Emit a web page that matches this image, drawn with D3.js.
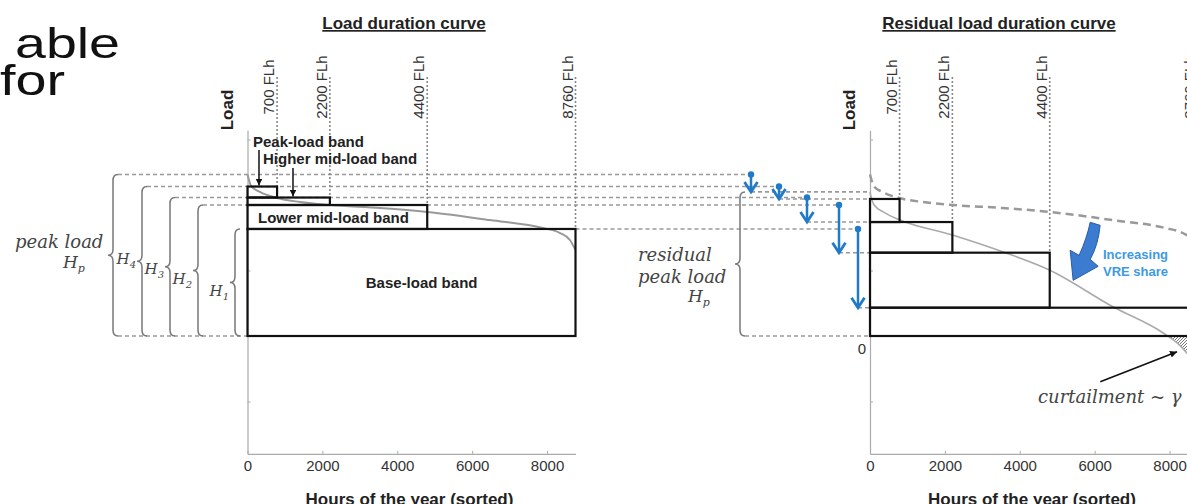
<!DOCTYPE html>
<html>
<head>
<meta charset="utf-8">
<script src="https://cdn.jsdelivr.net/npm/d3@7"></script>
<style>
  body { margin: 0; background: #fff; }
  svg { display: block; }
  text { font-family: "Liberation Sans", Arial, sans-serif; }
  .math { font-family: "DejaVu Serif", serif; font-style: italic; fill: #444; }
</style>
</head>
<body>
<svg id="chart" width="1187" height="504"></svg>
<script>
// ---- data (hours of the year / load in units of H2) ----
const hours    = [0, 40, 95, 330, 790, 1400, 2200, 3540, 4800, 6475, 7890, 8350, 8610, 8760];
const load     = [1.233, 1.19, 1.145, 1.10, 1.053, 1.023, 1.0, 0.977, 0.947, 0.885, 0.824, 0.786, 0.733, 0.656];
const resHours = [0, 30, 110, 400, 800, 2200, 3560, 4790, 6500, 7830, 8290, 8760];
const resLoad  = [1.10, 1.06, 1.0, 0.94, 0.886, 0.771, 0.641, 0.504, 0.221, 0.023, -0.075, -0.24];

const flhHours  = [790, 2200, 4800, 8760];
const flhLabels = ['700 FLh', '2200 FLh', '4400 FLh', '8760 FLh'];
const bandNames = ['Base-load band', 'Lower mid-load band', 'Higher mid-load band', 'Peak-load band'];
const levelSubs = ['1', '2', '3', '4', 'p'];          // H1..H4, Hp
const levels    = [0.817, 1.0, 1.057, 1.141, 1.233];
const resLevels = [0.216, 0.636, 0.870, 1.046, 1.10];
const xTicks = [0, 2000, 4000, 6000, 8000];
const yTicks = [-0.5, 0.5, 1.5];
const yAxisDomain = [-0.9, 1.57];

// ---- layout ----
const braceArmX = [240, 203, 175, 147, 118];
const labelDy   = [14, 13, 7, 3, 0];
const arrowX    = [858, 839, 807, 779, 751];
const resBraceX = 745;
const flhTop = 77;
const guideColor = '#999';
const blue = '#1f7ac9';

const svg = d3.select('#chart');

const xL = d3.scaleLinear().domain([0, 8760]).range([247.5, 575.5]);
const xR = d3.scaleLinear().domain([0, 8760]).range([870, 1198]);
const y  = d3.scaleLinear().domain([0, 1]).range([336, 205]);
const yAx = d3.scaleLinear().domain(yAxisDomain).range(yAxisDomain.map(y));

const bandEnds = flhHours.slice().reverse();

// defs: hatch, arrow head, clip below zero
const defs = svg.append('defs');
defs.append('pattern')
  .attr('id', 'hatch').attr('patternUnits', 'userSpaceOnUse')
  .attr('width', 3).attr('height', 3)
  .append('path')
  .attr('d', 'M-1,1 l2,-2 M0,3 l3,-3 M2,4 l2,-2')
  .attr('stroke', '#666').attr('stroke-width', 0.9);
defs.append('marker')
  .attr('id', 'head').attr('viewBox', '0 0 10 10')
  .attr('refX', 10).attr('refY', 5)
  .attr('markerWidth', 7).attr('markerHeight', 7)
  .attr('markerUnits', 'userSpaceOnUse').attr('orient', 'auto')
  .append('path').attr('d', 'M0,0 L10,5 L0,10 z').attr('fill', '#111');
defs.append('clipPath').attr('id', 'below0')
  .append('rect')
  .attr('x', xR(0)).attr('y', y(0))
  .attr('width', 400).attr('height', 150);

// curly brace opening to the right, tip to the left
function bracePath(xa, y0, y1, w) {
  const xm = xa - w / 2, xt = xa - w, ym = (y0 + y1) / 2, r = 6;
  return `M${xa},${y0} Q${xm},${y0} ${xm},${y0 + r} L${xm},${ym - r} ` +
         `Q${xm},${ym} ${xt},${ym} Q${xm},${ym} ${xm},${ym + r} ` +
         `L${xm},${y1 - r} Q${xm},${y1} ${xa},${y1}`;
}

function hLine(x1, x2, yy) {
  svg.append('line')
    .attr('x1', x1).attr('x2', x2).attr('y1', yy).attr('y2', yy)
    .attr('stroke', guideColor).attr('stroke-width', 1.6)
    .attr('stroke-dasharray', '4,3');
}

// ---- horizontal guide lines ----
levels.forEach((v, i) => {
  const start = i === 0 ? xL(bandEnds[0]) : braceArmX[i];
  hLine(start, arrowX[i], y(v));
});
resLevels.forEach((v, i) => hLine(arrowX[i], xR(0), y(v)));
hLine(braceArmX[4], xL(0), y(0));
hLine(resBraceX, xR(0), y(0));

// ---- one panel ----
function drawPanel(x, lv) {
  // dotted FLh verticals + labels
  flhHours.forEach((h, i) => {
    svg.append('line')
      .attr('x1', x(h)).attr('x2', x(h))
      .attr('y1', flhTop).attr('y2', y(lv[3 - i]))
      .attr('stroke', '#888').attr('stroke-width', 1.6)
      .attr('stroke-dasharray', '2,2');
    svg.append('text')
      .attr('transform', `translate(${x(h) - 3},87) rotate(-90)`)
      .attr('text-anchor', 'middle')
      .attr('font-size', 15).attr('fill', '#333')
      .text(flhLabels[i]);
  });

  // axes
  const gx = svg.append('g')
    .attr('transform', `translate(0,${yAx(yAxisDomain[0])})`)
    .call(d3.axisBottom(x).tickValues(xTicks).tickFormat(d3.format('d'))
      .tickSizeInner(-3).tickSizeOuter(0).tickPadding(6));
  const gy = svg.append('g')
    .attr('transform', `translate(${x(0)},0)`)
    .call(d3.axisLeft(yAx).tickValues(yTicks).tickSizeInner(-3).tickSizeOuter(0).tickFormat(''));
  [gx, gy].forEach(g => {
    g.select('.domain').attr('stroke', '#aaa').attr('stroke-width', 1.2);
    g.selectAll('.tick line').attr('stroke', '#aaa');
    g.selectAll('text')
      .attr('font-size', 15).attr('fill', '#333')
      .attr('font-family', '"Liberation Sans", Arial, sans-serif');
  });

  svg.append('text')
    .attr('x', (x.range()[0] + x.range()[1]) / 2 - 2).attr('y', 505)
    .attr('text-anchor', 'middle')
    .attr('font-size', 17).attr('font-weight', 'bold').attr('fill', '#222')
    .text('Hours of the year (sorted)');

  svg.append('text')
    .attr('transform', `translate(${x(0) - 15},110) rotate(-90)`)
    .attr('text-anchor', 'middle')
    .attr('font-size', 17).attr('font-weight', 'bold').attr('fill', '#222')
    .text('Load');
}

function drawBands(x, lv) {
  bandEnds.forEach((h, k) => {
    const top = lv[k], bottom = k === 0 ? 0 : lv[k - 1];
    svg.append('rect')
      .attr('x', x(0)).attr('y', y(top))
      .attr('width', x(h) - x(0)).attr('height', y(bottom) - y(top))
      .attr('fill', 'none').attr('stroke', '#111').attr('stroke-width', 2.2);
  });
}

drawPanel(xL, levels);
drawPanel(xR, resLevels);

// ---- curves ----
const lineL = d3.line().x(d => xL(d[0])).y(d => y(d[1])).curve(d3.curveMonotoneX);
const lineR = d3.line().x(d => xR(d[0])).y(d => y(d[1])).curve(d3.curveMonotoneX);
const loadPts = d3.zip(hours, load);
const resPts = d3.zip(resHours, resLoad);

svg.append('path').attr('d', lineL(loadPts))
  .attr('fill', 'none').attr('stroke', '#999').attr('stroke-width', 2);

svg.append('path')
  .attr('clip-path', 'url(#below0)')
  .attr('d', d3.area().x(d => xR(d[0])).y0(y(0)).y1(d => y(d[1])).curve(d3.curveMonotoneX)(resPts))
  .attr('fill', 'url(#hatch)');

svg.append('path').attr('d', lineR(loadPts))
  .attr('fill', 'none').attr('stroke', '#999').attr('stroke-width', 2.5)
  .attr('stroke-dasharray', '8,5');
svg.append('path').attr('d', lineR(resPts))
  .attr('fill', 'none').attr('stroke', '#aaa').attr('stroke-width', 1.6);

drawBands(xL, levels);
drawBands(xR, resLevels);

// ---- left-panel band labels ----
const bandLabelPos = [
  { x: xL(4650), y: 288, anchor: 'middle' },
  { x: 258, y: 223, anchor: 'start' },
  { x: 263, y: 164, anchor: 'start' },
  { x: 253, y: 147, anchor: 'start' }
];
bandNames.forEach((n, k) => {
  svg.append('text')
    .attr('x', bandLabelPos[k].x).attr('y', bandLabelPos[k].y)
    .attr('text-anchor', bandLabelPos[k].anchor)
    .attr('font-size', 15).attr('font-weight', 'bold').attr('fill', '#222')
    .text(n);
});
[[307, 150, levels[3]], [1215, 168, levels[2]]].forEach(([h, y0, v]) => {
  svg.append('line')
    .attr('x1', xL(h)).attr('x2', xL(h)).attr('y1', y0).attr('y2', y(v) - 1)
    .attr('stroke', '#111').attr('stroke-width', 1.5)
    .attr('marker-end', 'url(#head)');
});

// ---- braces and math labels ----
levels.forEach((v, i) => {
  const y0 = y(v), y1 = y(0);
  svg.append('path').attr('d', bracePath(braceArmX[i], y0, y1, 10))
    .attr('fill', 'none').attr('stroke', '#777').attr('stroke-width', 1.5);
  if (i < 4) {
    const t = svg.append('text').attr('class', 'math')
      .attr('x', braceArmX[i] - 11).attr('y', (y0 + y1) / 2 + labelDy[i])
      .attr('text-anchor', 'end').attr('font-size', 15);
    t.append('tspan').text('H');
    t.append('tspan').attr('font-size', 10).attr('dy', 4).text(levelSubs[i]);
  }
});
svg.append('text').attr('class', 'math').attr('x', 15).attr('y', 248)
  .attr('font-size', 18).text('peak load');
const hpL = svg.append('text').attr('class', 'math').attr('x', 63).attr('y', 268).attr('font-size', 17);
hpL.append('tspan').text('H');
hpL.append('tspan').attr('font-size', 11).attr('dy', 4).text('p');

svg.append('path').attr('d', bracePath(resBraceX, y(resLevels[4]), y(0), 10))
  .attr('fill', 'none').attr('stroke', '#777').attr('stroke-width', 1.5);
svg.append('text').attr('class', 'math').attr('x', 638).attr('y', 261)
  .attr('font-size', 18).text('residual');
svg.append('text').attr('class', 'math').attr('x', 638).attr('y', 283)
  .attr('font-size', 18).text('peak load');
const hpR = svg.append('text').attr('class', 'math').attr('x', 688).attr('y', 302).attr('font-size', 17);
hpR.append('tspan').text('H');
hpR.append('tspan').attr('font-size', 11).attr('dy', 4).text('p');

// ---- blue shift arrows ----
levels.forEach((v, i) => {
  const xa = arrowX[i], ya = y(v), yb = y(resLevels[i]);
  svg.append('line').attr('x1', xa).attr('x2', xa).attr('y1', ya).attr('y2', yb - 1)
    .attr('stroke', blue).attr('stroke-width', 2.5);
  svg.append('circle').attr('cx', xa).attr('cy', ya).attr('r', 3.2).attr('fill', blue);
  svg.append('polyline')
    .attr('points', `${xa - 6.5},${yb - 10} ${xa},${yb} ${xa + 6.5},${yb - 10}`)
    .attr('fill', 'none').attr('stroke', blue).attr('stroke-width', 2.8)
    .attr('stroke-linejoin', 'miter');
});

// ---- right panel annotations ----
svg.append('text').attr('x', xR(0) - 8).attr('y', y(0) + 18)
  .attr('text-anchor', 'middle').attr('font-size', 15).attr('fill', '#333').text('0');

svg.append('path')
  .attr('transform', `translate(${xR(5800)},${y(0.86)})`)
  .attr('d', 'M3,-1 L13,2 Q11,22 3,36 L11,43 L-14,57 L-17,27 L-8,32 Q0,14 3,-1 Z')
  .attr('fill', '#3b7bd0').attr('stroke', '#2a5ca8').attr('stroke-width', 1);
svg.append('text').attr('x', 1103).attr('y', 259)
  .attr('font-size', 13).attr('font-weight', 'bold').attr('fill', '#3d9ae2').text('Increasing');
svg.append('text').attr('x', 1103).attr('y', 276)
  .attr('font-size', 13).attr('font-weight', 'bold').attr('fill', '#3d9ae2').text('VRE share');

svg.append('line')
  .attr('x1', xR(6150)).attr('y1', y(-0.35)).attr('x2', xR(8200)).attr('y2', y(-0.12))
  .attr('stroke', '#111').attr('stroke-width', 1.6).attr('marker-end', 'url(#head)');
svg.append('text').attr('class', 'math').attr('x', 1038).attr('y', 403)
  .attr('font-size', 18).text('curtailment ~ γ');

// ---- titles ----
svg.append('text').attr('x', 404).attr('y', 29).attr('text-anchor', 'middle')
  .attr('font-size', 17).attr('font-weight', 'bold').attr('fill', '#222')
  .attr('text-decoration', 'underline').text('Load duration curve');
svg.append('text').attr('x', 999).attr('y', 29).attr('text-anchor', 'middle')
  .attr('font-size', 17).attr('font-weight', 'bold').attr('fill', '#222')
  .attr('text-decoration', 'underline').text('Residual load duration curve');

// ---- slide text cut at the left edge (one text block, two lines) ----
const slide = svg.append('text')
  .attr('font-family', '"DejaVu Sans", sans-serif').attr('font-weight', 300)
  .attr('font-size', 42).attr('fill', '#111');
slide.append('tspan').attr('x', 15).attr('y', 58)
  .attr('textLength', 105).attr('lengthAdjust', 'spacingAndGlyphs').text('able');
slide.append('tspan').attr('x', 0).attr('y', 95)
  .attr('textLength', 65).attr('lengthAdjust', 'spacingAndGlyphs').text('for');
</script>
</body>
</html>
